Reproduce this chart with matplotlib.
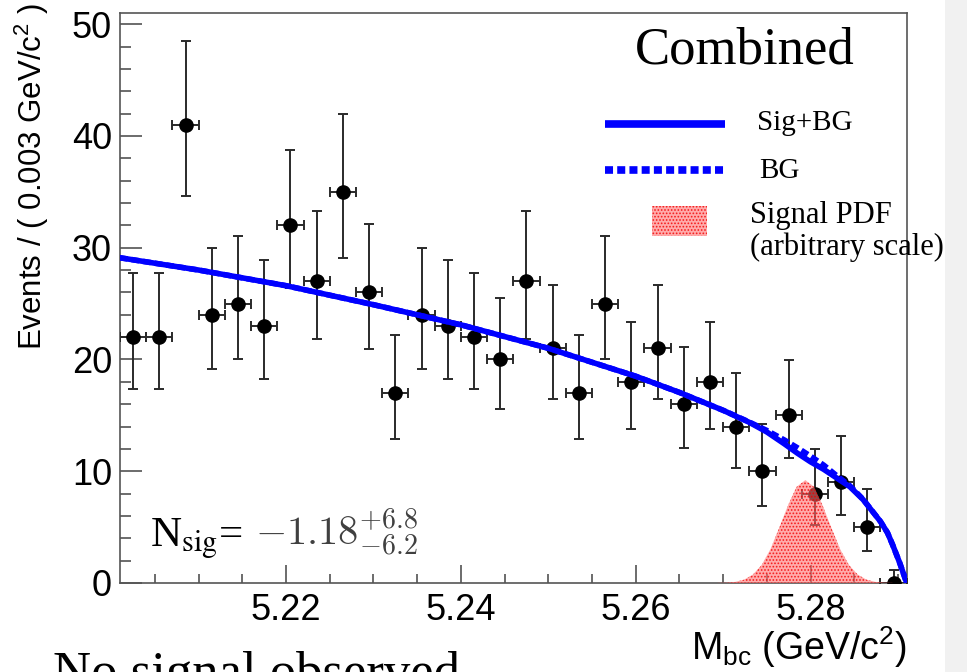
import matplotlib
matplotlib.use('Agg')
import matplotlib.pyplot as plt
import numpy as np
from matplotlib.patches import Rectangle
from matplotlib.ticker import MultipleLocator, FormatStrFormatter

plt.rcParams['font.family'] = 'Liberation Sans'
plt.rcParams['mathtext.fontset'] = 'custom'
plt.rcParams['mathtext.rm'] = 'Liberation Sans'
plt.rcParams['mathtext.it'] = 'Liberation Sans:italic'
plt.rcParams['mathtext.bf'] = 'Liberation Sans:bold'
plt.rcParams['hatch.linewidth'] = 0.8

# binning of the Mbc histogram
x_lo = 5.201
bin_w = 0.003
n_bins = 30

counts = [22, 22, 41, 24, 25, 23, 32, 27, 35, 26, 17, 24, 23, 22, 20,
          27, 21, 17, 25, 18, 21, 16, 18, 14, 10, 15, 8, 9, 5, 0]
err_lo = [4.65, 4.65, 6.39, 4.86, 4.97, 4.76, 5.64, 5.17, 5.90, 5.07, 4.08, 4.86, 4.76, 4.65, 4.43,
          5.17, 4.54, 4.08, 4.97, 4.20, 4.54, 3.96, 4.20, 3.70, 3.11, 3.83, 2.77, 2.94, 2.16, 0.0]
err_hi = [5.76, 5.76, 7.47, 5.96, 6.06, 5.86, 6.72, 6.26, 6.98, 6.16, 5.20, 5.96, 5.86, 5.76, 5.54,
          6.26, 5.64, 5.20, 6.06, 5.32, 5.64, 5.08, 5.32, 4.83, 4.27, 4.95, 3.95, 4.11, 3.38, 1.15]

# fit curves
curve_x = [5.2010, 5.2100, 5.2200, 5.2300, 5.2400, 5.2500, 5.2600, 5.2650, 5.2700, 5.2730,
           5.2750, 5.2770, 5.2785, 5.2800, 5.2815, 5.2830, 5.2845, 5.2860, 5.2870, 5.2880,
           5.2888, 5.2894, 5.2902, 5.2910]
bg_y = [29.1, 28.0, 26.6, 24.9, 23.1, 21.0, 18.5, 17.05, 15.45, 14.4,
        13.65, 12.8, 12.1, 11.35, 10.55, 9.6, 8.7, 7.5, 6.5, 5.5,
        4.5, 3.4, 1.8, 0.0]
sigbg_y = [29.1, 28.0, 26.6, 24.9, 23.1, 21.0, 18.5, 17.05, 15.45, 14.37,
           13.51, 12.45, 11.61, 10.84, 10.17, 9.39, 8.61, 7.47, 6.49, 5.5,
           4.5, 3.4, 1.8, 0.0]

# signal pdf (arbitrary scale)
pdf_x = [5.2694, 5.2704, 5.2714, 5.2724, 5.2734, 5.2744, 5.2754, 5.2764, 5.2774, 5.2784, 5.2794,
         5.2804, 5.2814, 5.2824, 5.2834, 5.2844, 5.2854, 5.2864, 5.2874, 5.2884, 5.2894]
pdf_y = [0.01, 0.03, 0.1, 0.3, 0.75, 1.6, 3.0, 4.9, 6.9, 8.6, 9.2,
         8.6, 6.9, 4.9, 3.0, 1.6, 0.75, 0.3, 0.1, 0.03, 0.01]

centers = x_lo + bin_w * (np.arange(n_bins) + 0.5)

W, H = 967, 672
fig = plt.figure(figsize=(W / 100, H / 100), dpi=100)
fig.patches.append(Rectangle((945 / W, 0), 22 / W, 1, transform=fig.transFigure,
                             facecolor='#f1f1f1', edgecolor='none', zorder=0))
ax = fig.add_axes([120 / W, 89 / H, 786.7 / W, 570 / H])

ax.errorbar(centers, counts, yerr=[err_lo, err_hi], xerr=bin_w / 2, fmt='o',
            color='black', ecolor='#2a2a2a', elinewidth=1.4, capsize=3.3, capthick=1.4,
            ms=9.5, zorder=3)

sig_style = dict(facecolor=(1, 0.45, 0.45, 0.6), hatch='.....', edgecolor=(0.95, 0, 0, 0.8), linewidth=0)
ax.fill_between(pdf_x, 0, pdf_y, zorder=4, **sig_style)

ax.plot(curve_x, bg_y, color='blue', lw=4, ls=(0, (1.4, 0.7)), zorder=5)
ax.plot(curve_x, sigbg_y, color='blue', lw=4, zorder=6)

ax.set_xlim(x_lo, x_lo + n_bins * bin_w)
ax.set_ylim(0, 51)
ax.xaxis.set_major_locator(MultipleLocator(0.02))
ax.xaxis.set_minor_locator(MultipleLocator(0.005))
ax.xaxis.set_major_formatter(FormatStrFormatter('%.2f'))
ax.yaxis.set_major_locator(MultipleLocator(10))
ax.yaxis.set_minor_locator(MultipleLocator(2))
ax.tick_params(axis='both', which='both', direction='in', top=False, right=False,
               color='#444444', width=1.1, labelsize=26)
ax.tick_params(axis='y', which='major', length=15.8, pad=5.8)
ax.tick_params(axis='y', which='minor', length=7.9)
ax.tick_params(axis='x', which='major', length=12.7, pad=7)
ax.tick_params(axis='x', which='minor', length=6.5)
for s in ax.spines.values():
    s.set_color('#555555')
    s.set_linewidth(1.2)

# legend drawn by hand
ax.plot([0.6165, 0.769], [0.8053, 0.8053], transform=ax.transAxes, color='blue', lw=5.5,
        solid_capstyle='butt', zorder=7)
ax.plot([0.6165, 0.769], [0.7246, 0.7246], transform=ax.transAxes, color='blue', lw=5.5,
        ls=(0, (1.05, 0.55)), dash_capstyle='butt', zorder=7)
ax.add_patch(Rectangle((0.676, 0.6088), 0.07, 0.0526, transform=ax.transAxes, zorder=7, **sig_style))

serif = 'Liberation Serif'
ax.text(0.6546, 0.912, 'Combined', transform=ax.transAxes, family=serif, fontsize=38, va='baseline')
ax.text(0.8097, 0.7947, 'Sig+BG', transform=ax.transAxes, family=serif, fontsize=21, va='baseline')
ax.text(0.8122, 0.7105, 'BG', transform=ax.transAxes, family=serif, fontsize=21, va='baseline')
ax.text(0.8008, 0.6316, 'Signal PDF', transform=ax.transAxes, family=serif, fontsize=22, va='baseline')
ax.text(0.8008, 0.5754, '(arbitrary scale)', transform=ax.transAxes, family=serif, fontsize=22,
        va='baseline')

fig.text(150 / W, (H - 547) / H, r'N$_{\rm sig}$=', family=serif, math_fontfamily='stix',
         fontsize=31, va='baseline')
fig.text(255 / W, (H - 546) / H, r'$-1.18^{+6.8}_{-6.2}$', math_fontfamily='cm',
         fontsize=29, color='#404040', va='baseline')

fig.text(42 / W, (H - 350) / H, r'Events / ( 0.003 GeV/c$^{2}$ )', rotation=90,
         rotation_mode='anchor', ha='left', va='baseline', fontsize=22.5)
fig.text(907 / W, (H - 660) / H, r'M$_{\rm bc}$ (GeV/c$^{2}$)', ha='right', va='baseline',
         fontsize=27)
fig.text(53 / W, (H - 688) / H, 'No signal observed', family=serif, fontsize=38, va='baseline')

plt.savefig('out.png', dpi=100)
